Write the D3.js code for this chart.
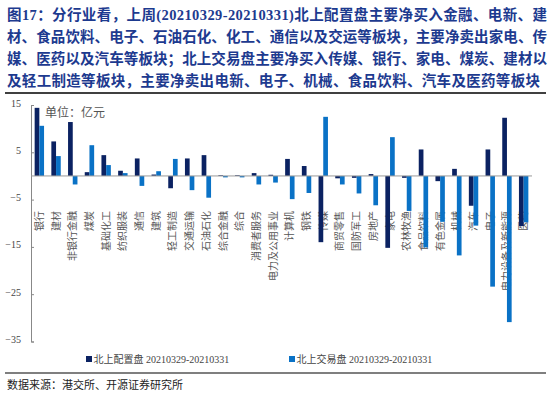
<!DOCTYPE html>
<html lang="zh">
<head>
<meta charset="utf-8">
<title>北上资金分行业</title>
<style>
  body { margin: 0; background: #fff; }
  svg text { font-family: "Liberation Serif", "Noto Sans CJK SC", serif; }
  .title { font-weight: bold; fill: #1d3a8f; font-size: 14.5px; }
  .tick text { font-size: 10px; fill: #444; }
  .cat { font-size: 10px; fill: #555; }
  .legend { font-size: 10px; fill: #444; }
</style>
<script src="https://d3js.org/d3.v7.min.js"></script>
</head>
<body>
<div id="chart"></div>
<script>
var titleLines = [
  "图17：分行业看，上周(20210329-20210331)北上配置盘主要净买入金融、电新、建",
  "材、食品饮料、电子、石油石化、化工、通信以及交运等板块，主要净卖出家电、传",
  "媒、医药以及汽车等板块；北上交易盘主要净买入传媒、银行、家电、煤炭、建材以",
  "及轻工制造等板块，主要净卖出电新、电子、机械、食品饮料、汽车及医药等板块"
];

var categories = ["银行", "建材", "非银行金融", "煤炭", "基础化工", "纺织服装", "通信", "建筑",
  "轻工制造", "交通运输", "石油石化", "综合金融", "综合", "消费者服务", "电力及公用事业",
  "计算机", "钢铁", "传媒", "商贸零售", "国防军工", "房地产", "家电", "农林牧渔",
  "食品饮料", "有色金属", "机械", "汽车", "电子", "电力设备及新能源", "医药"];

// 北上配置盘
var peizhi = [14.4, 7.3, 11.4, 0.8, 4.4, 1.1, 3.7, 0.3, -2.6, 3.7, 4.4, 0.15, 0.15, 0.6, 0.25,
  3.6, 2.1, -14.0, -0.5, -0.4, 0.4, -15.2, -0.4, 5.6, -1.1, 1.5, -6.3, 5.6, 12.3, -10.6];
// 北上交易盘
var jiaoyi = [10.6, 4.2, -1.8, 6.5, 2.3, 0.6, -2.1, 1.0, 3.6, -3.0, -4.6, -0.3, -0.3, -1.8, -1.4,
  -4.9, -3.6, 12.5, -1.8, -3.7, -6.2, 8.2, -7.4, -15.1, -9.7, -16.8, -10.5, -23.4, -30.9, -9.8];

var yTicks = [15, 5, -5, -15, -25, -35];
var seriesNames = ["北上配置盘 20210329-20210331", "北上交易盘 20210329-20210331"];
var colors = ["#0b2262", "#0a72c6"];

var w = 550, h = 395;
var svg = d3.select("#chart").append("svg").attr("width", w).attr("height", h);

// title
svg.selectAll(".title").data(titleLines).enter().append("text")
  .attr("class", "title")
  .attr("x", 7)
  .attr("y", function(d, i) { return 20 + i * 22; })
  .attr("textLength", function(d, i) { return i < 3 ? 540 : 533; })
  .attr("lengthAdjust", "spacing")
  .text(function(d) { return d; });

svg.append("line").attr("x1", 5).attr("x2", 546).attr("y1", 93).attr("y2", 93)
  .attr("stroke", "#000").attr("stroke-width", 1.5);

var x = d3.scaleBand().domain(categories).range([31, 532]);
var y = d3.scaleLinear().domain([-35, 15]).range([341.5, 105]);
var bw = 4.7;

// category labels (rotated, behind bars)
svg.selectAll(".cat").data(categories).enter().append("text")
  .attr("class", "cat")
  .attr("text-anchor", "end")
  .attr("transform", function(d) {
    return "translate(" + (x(d) + x.bandwidth() / 2 + 3.5) + ",211) rotate(-90)";
  })
  .text(function(d) { return d; });

// y axis
var yAxis = d3.axisLeft(y).tickValues(yTicks).tickSize(-3).tickPadding(10);
var ga = svg.append("g").attr("transform", "translate(31,0)").call(yAxis);
ga.select(".domain").attr("stroke", "#888");
ga.selectAll(".tick line").attr("stroke", "#888");
ga.selectAll(".tick text").attr("font-family", "Liberation Serif").attr("dy", "0.1em");

// bars
[peizhi, jiaoyi].forEach(function(vals, s) {
  svg.append("g").selectAll("rect").data(vals).enter().append("rect")
    .attr("x", function(d, i) { return x(categories[i]) + x.bandwidth() / 2 - bw + s * bw; })
    .attr("width", bw)
    .attr("y", function(d) { return y(Math.max(0, d)); })
    .attr("height", function(d) { return Math.abs(y(d) - y(0)); })
    .attr("fill", colors[s]);
});

// zero line
svg.append("line").attr("x1", 31).attr("x2", 532).attr("y1", y(0)).attr("y2", y(0))
  .attr("stroke", "#999").attr("stroke-width", 1);

svg.append("text").attr("x", 45).attr("y", 117)
  .attr("font-size", 12).attr("fill", "#555")
  .style("font-family", "'Noto Sans CJK SC'")
  .text("单位：亿元");

// legend
var lg = svg.selectAll(".lg").data(seriesNames).enter().append("g")
  .attr("transform", function(d, i) { return "translate(" + (86 + i * 203) + ",356)"; });
lg.append("rect").attr("width", 6).attr("height", 6).attr("fill", function(d, i) { return colors[i]; });
lg.append("text").attr("class", "legend").attr("x", 7.5).attr("y", 7).text(function(d) { return d; });

svg.append("line").attr("x1", 5).attr("x2", 546).attr("y1", 373).attr("y2", 373)
  .attr("stroke", "#000").attr("stroke-width", 1.2);

svg.append("text").attr("x", 7).attr("y", 389)
  .attr("font-size", 11).attr("fill", "#222")
  .text("数据来源：港交所、开源证券研究所");
</script>
</body>
</html>
